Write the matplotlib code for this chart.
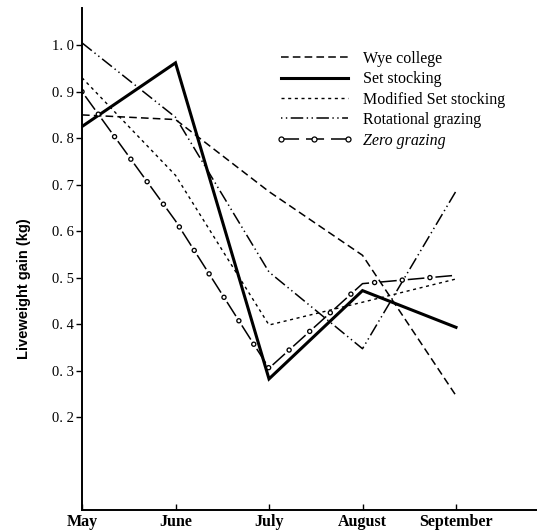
import matplotlib
matplotlib.use("Agg")
import matplotlib.pyplot as plt
from matplotlib.lines import Line2D

plt.rcParams["lines.scale_dashes"] = False

months = ["May", "June", "July", "August", "September"]
wye_college = [0.85, 0.84, 0.685, 0.548, 0.246]
set_stocking = [0.825, 0.962, 0.282, 0.472, 0.393]
modified_set = [0.93, 0.72, 0.398, 0.447, 0.497]
rotational = [1.005, 0.845, 0.512, 0.347, 0.686]
zero_grazing = [0.90, 0.622, 0.305, 0.487, 0.505]
ytick_vals = [0.2, 0.3, 0.4, 0.5, 0.6, 0.7, 0.8, 0.9, 1.0]
ytick_labels = ["0. 2", "0. 3", "0. 4", "0. 5", "0. 6", "0. 7", "0. 8", "0. 9", "1. 0"]

serif = ["Liberation Serif", "DejaVu Serif"]

wye_ls = (0, (5.5, 3))
mod_ls = (0, (2.2, 2.6))
rot_ls = (0, (9, 2.5, 1, 2.5, 1, 2.5))
zero_ls = (16, (12, 8))
ring_ls = (0, (0.001, 20))

fig = plt.figure(figsize=(5.37, 5.31), dpi=100)
ax = fig.add_axes([82/537, 21/531, 455/537, 502/531])
x = list(range(len(months)))

ax.plot(x, wye_college, color="black", lw=1.1, linestyle=wye_ls)
ax.plot(x, set_stocking, color="black", lw=2.2, solid_joinstyle="miter")
ax.plot(x, modified_set, color="black", lw=1.0, linestyle=mod_ls)
ax.plot(x, rotational, color="black", lw=1.1, linestyle=rot_ls)
# zero grazing: long dashes with small open circles along the line
ax.plot(x, zero_grazing, color="black", lw=1.1, linestyle=zero_ls)
ax.plot(x, zero_grazing, color="black", lw=4.0, linestyle=ring_ls,
        dash_capstyle="round")
ax.plot(x, zero_grazing, color="white", lw=2.1, linestyle=ring_ls,
        dash_capstyle="round")

ax.set_xlim(0, 455/93.5)
ax.set_ylim(0, 1.08)
ax.set_xticks(x)
ax.set_xticklabels(months, fontfamily=serif, fontweight="bold", fontsize=11.5)
ax.set_yticks(ytick_vals)
ax.set_yticklabels(ytick_labels, fontfamily=serif, fontsize=10.5)
ax.tick_params(axis="x", direction="in", length=4, width=1.0, pad=3)
ax.tick_params(axis="y", direction="out", length=4, width=1.0, pad=2)
for s in ["top", "right"]:
    ax.spines[s].set_visible(False)
for s in ["left", "bottom"]:
    ax.spines[s].set_linewidth(1.4)

ax.set_ylabel("Liveweight gain (kg)", fontfamily=["Liberation Sans", "DejaVu Sans"],
              fontweight="bold", fontsize=10.5)
ax.yaxis.set_label_coords(-51/455, 0.44)

handles = [
    Line2D([], [], color="black", lw=1.1, linestyle=wye_ls),
    Line2D([], [], color="black", lw=2.2),
    Line2D([], [], color="black", lw=1.0, linestyle=mod_ls),
    Line2D([], [], color="black", lw=1.1, linestyle=(0, (1, 2.5, 1, 2.5, 9, 2.5))),
    Line2D([], [], color="black", lw=1.1, linestyle=(0, (13, 5)), marker="o",
           markersize=3.6, markerfacecolor="white", markeredgewidth=0.9),
]
labels = ["Wye college", "Set stocking", "Modified Set stocking",
          "Rotational grazing", "Zero grazing"]
leg = ax.legend(handles, labels, loc="upper left", bbox_to_anchor=(194/455, 0.915),
                frameon=False, prop={"family": serif, "size": 11.5},
                handlelength=4.8, handletextpad=0.65, labelspacing=0.28,
                borderpad=0, borderaxespad=0, numpoints=3)
leg.get_texts()[4].set_fontstyle("italic")

fig.savefig("out.png", dpi=100)
